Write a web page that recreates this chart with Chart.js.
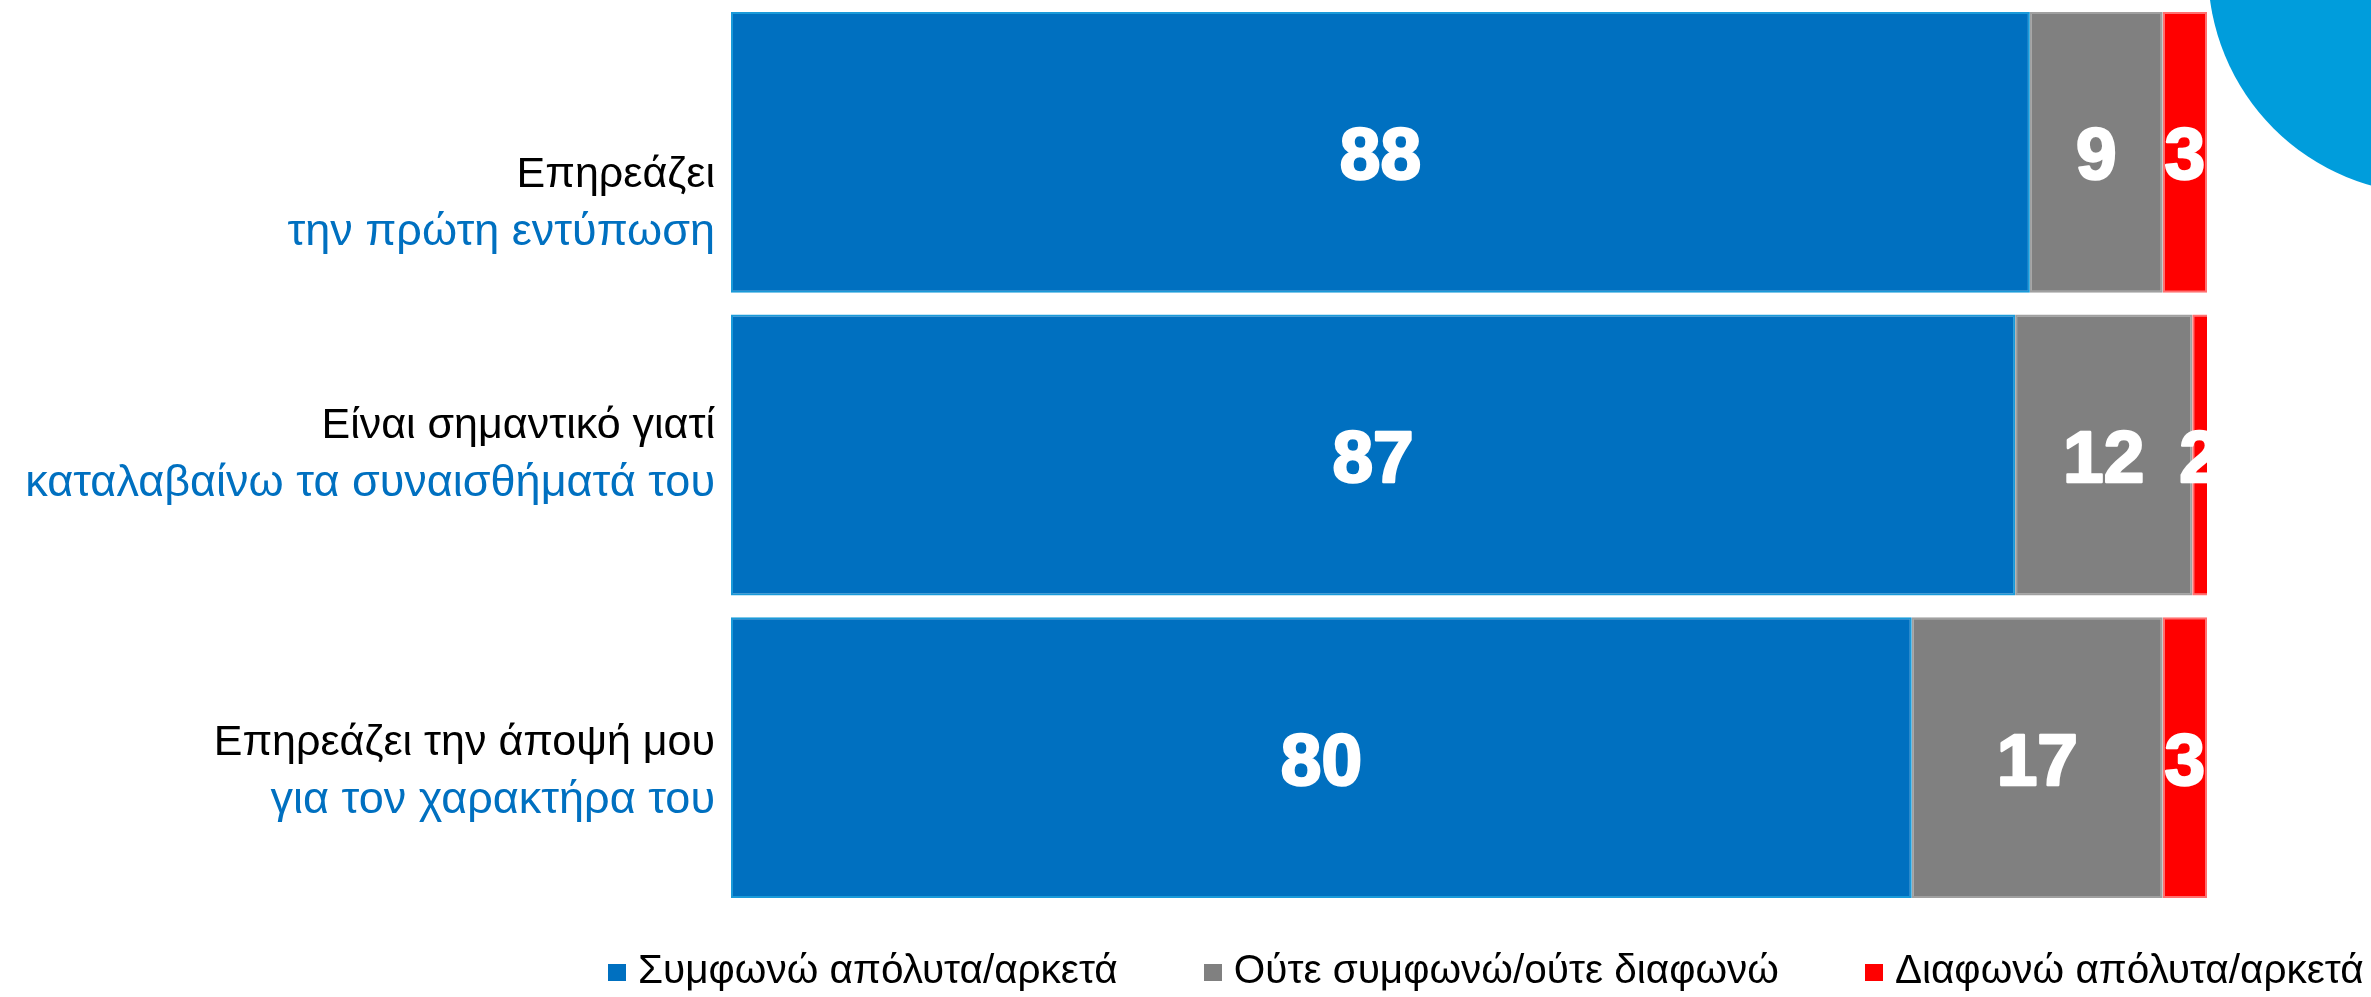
<!DOCTYPE html>
<html>
<head>
<meta charset="utf-8">
<script src="https://cdn.jsdelivr.net/npm/chart.js"></script>
<style>
  body { margin: 0; background: #fff; overflow: hidden; }
  #wrap { position: relative; width: 2371px; height: 997px; overflow: hidden; }
  #blob { position: absolute; left: 2208px; top: -254px; width: 448px; height: 448px; border-radius: 50%; background: #009ddc; }
  #legend { position: absolute; left: 608px; top: 949px; display: flex; white-space: nowrap;
            font: 40.5px "Liberation Sans", Arial, sans-serif; line-height: 41px; color: #000; }
  .item { display: flex; align-items: center; margin-right: 86px; }
  .box { width: 18px; height: 17px; margin-right: 12px; margin-top: 6px; }
</style>
</head>
<body>
<div id="wrap">
  <canvas id="chart" width="2371" height="997"></canvas>
  <div id="blob"></div>
  <div id="legend"></div>
</div>
<script>
// categories, two lines each (second line in blue)
var labelTop = ["Επηρεάζει", "Είναι σημαντικό γιατί", "Επηρεάζει την άποψή μου"];
var labelBottom = ["την πρώτη εντύπωση", "καταλαβαίνω τα συναισθήματά του", "για τον χαρακτήρα του"];

var seriesNames = ["Συμφωνώ απόλυτα/αρκετά", "Ούτε συμφωνώ/ούτε διαφωνώ", "Διαφωνώ απόλυτα/αρκετά"];
var agree = [88, 87, 80];
var neutral = [9, 12, 17];
var disagree = [3, 2, 3];

var colors = ["#0070C0", "#808080", "#FF0000"];
var edges = ["#1a9ad9", "#a0a0a0", "#ff7070"];

// the side labels are not centred on their bars in the original
var labelNudge = [52, 0, 15];

var sideLabels = {
    id: 'sideLabels',
    afterDraw: function(chart) {
        var ctx = chart.ctx;
        var yScale = chart.scales.y;
        var xr = chart.chartArea.left - 16;
        ctx.save();
        ctx.textAlign = 'right';
        ctx.textBaseline = 'alphabetic';
        for (var i = 0; i < labelTop.length; i++) {
            var c = yScale.getPixelForValue(i) + labelNudge[i];
            ctx.font = '43px "Liberation Sans", Arial, sans-serif';
            ctx.fillStyle = '#000';
            ctx.fillText(labelTop[i], xr, c - 17.5);
            ctx.font = '45px "Liberation Sans", Arial, sans-serif';
            ctx.fillStyle = '#0070C0';
            ctx.fillText(labelBottom[i], xr, c + 40.5);
        }
        ctx.restore();
    }
};

var valueLabels = {
    id: 'valueLabels',
    afterDatasetsDraw: function(chart) {
        var ctx = chart.ctx;
        var area = chart.chartArea;
        ctx.save();
        ctx.beginPath();
        ctx.rect(area.left, area.top, area.right - area.left, area.bottom - area.top);
        ctx.clip();
        ctx.font = 'bold 73px "Liberation Sans", Arial, sans-serif';
        ctx.fillStyle = '#fff';
        ctx.strokeStyle = '#fff';
        ctx.lineWidth = 2.5;
        ctx.lineJoin = 'round';
        ctx.textAlign = 'center';
        ctx.textBaseline = 'alphabetic';
        chart.data.datasets.forEach(function(ds, di) {
            chart.getDatasetMeta(di).data.forEach(function(bar, i) {
                var p = bar.getProps(['x', 'base', 'y'], true);
                var l = Math.max(Math.min(p.x, p.base), area.left);
                var r = Math.min(Math.max(p.x, p.base), area.right);
                var cx = (l + r) / 2;
                ctx.fillText(ds.data[i], cx, p.y + 27);
                ctx.strokeText(ds.data[i], cx, p.y + 27);
            });
        });
        ctx.restore();
    }
};

var series = [agree, neutral, disagree];
var datasets = series.map(function(d, k) {
    return {
        label: seriesNames[k],
        data: d,
        backgroundColor: colors[k],
        borderColor: edges[k],
        borderWidth: 2,
        borderSkipped: false,
        barPercentage: 0.928,
        categoryPercentage: 1
    };
});

var chart = new Chart(document.getElementById("chart"), {
    type: 'bar',
    data: {
        labels: labelTop,
        datasets: datasets
    },
    options: {
        indexAxis: 'y',
        responsive: false,
        animation: false,
        devicePixelRatio: 1,
        layout: {
            padding: { left: 731, right: 164, top: 1, bottom: 88 }
        },
        plugins: {
            legend: { display: false },
            tooltip: { enabled: false }
        },
        scales: {
            x: { stacked: true, min: 0, max: 100, display: false },
            y: { stacked: true, display: false }
        }
    },
    plugins: [sideLabels, valueLabels]
});

// legend built from the same series arrays
var legend = document.getElementById("legend");
seriesNames.forEach(function(name, k) {
    var item = document.createElement("div");
    item.className = "item";
    var box = document.createElement("span");
    box.className = "box";
    box.style.background = colors[k];
    var txt = document.createElement("span");
    txt.textContent = name;
    item.appendChild(box);
    item.appendChild(txt);
    legend.appendChild(item);
});
</script>
</body>
</html>
